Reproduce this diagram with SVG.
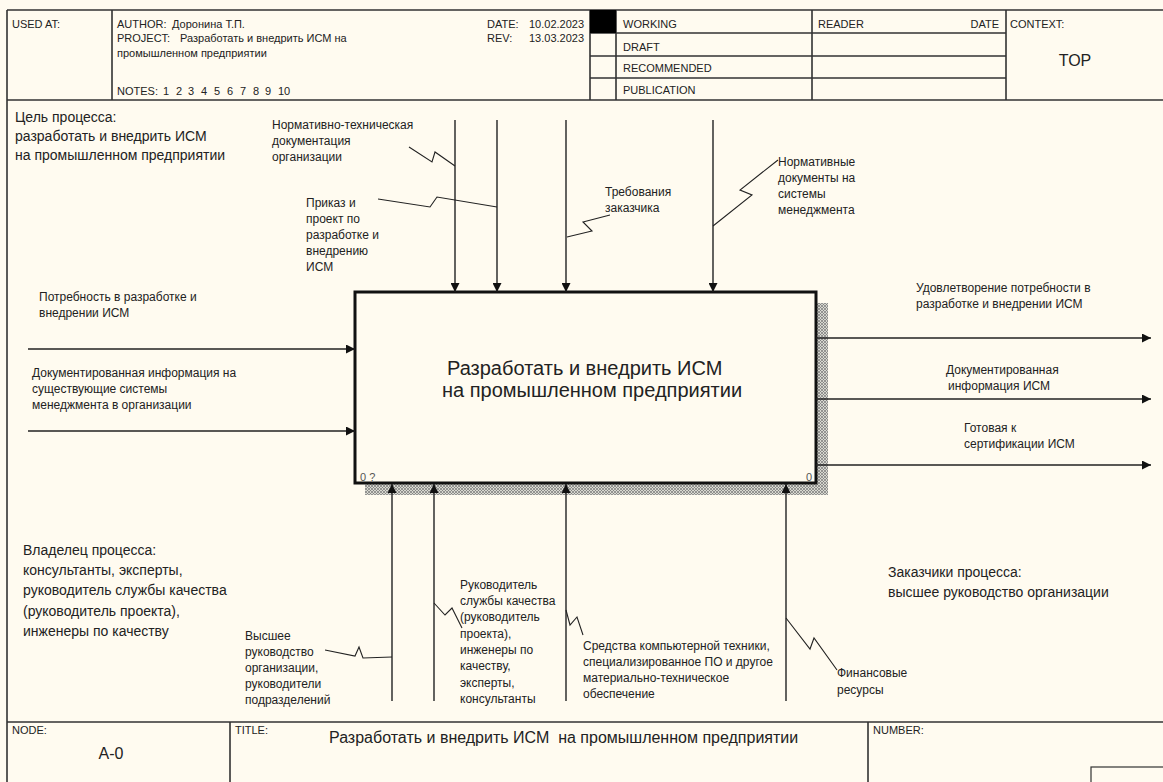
<svg xmlns="http://www.w3.org/2000/svg" width="1163" height="782" viewBox="0 0 1163 782">
<style>
.frame{fill:none;stroke:#333;stroke-width:1.6}
.hd{font-family:"Liberation Sans",Arial,sans-serif;font-size:11px;fill:#222}
.lb{font-family:"Liberation Sans",Arial,sans-serif;font-size:12px;fill:#222}
.big{font-family:"Liberation Sans",Arial,sans-serif;font-size:14px;fill:#222}
.ttl{font-family:"Liberation Sans",Arial,sans-serif;font-size:16px;fill:#222}
.box{font-family:"Liberation Sans",Arial,sans-serif;font-size:20px;fill:#222}
.num{font-family:"Liberation Sans",Arial,sans-serif;font-size:11px;fill:#555}
.arr{fill:none;stroke:#222;stroke-width:1.4}
.sq{fill:none;stroke:#222;stroke-width:1.1}
</style>
<defs>
<marker id="ah" viewBox="0 0 10 10" refX="10" refY="5" markerWidth="10" markerHeight="9" markerUnits="userSpaceOnUse" orient="auto">
<path d="M0,0 L10,5 L0,10 z" fill="#111"/>
</marker>
<pattern id="hatch" width="3" height="3" patternUnits="userSpaceOnUse">
<rect width="3" height="3" fill="#d8d8d0"/>
<path d="M0,0 L3,3 M3,0 L0,3" stroke="#777" stroke-width="0.7"/>
</pattern>
</defs>
<rect x="0" y="0" width="1163" height="782" fill="#fffbf0"/>

<g id="header">
<path class="frame" d="M7,10 H1163 M7,100 H1163 M7,10 V782 M112,10 V100 M590,10 V100 M616,10 V100 M812,10 V100 M1006,10 V100 M590,33 H1006 M590,56 H1006 M590,78 H1006"/>
<rect x="590" y="10" width="26" height="23" fill="#000"/>
<text class="hd" x="12" y="28">USED AT:</text>
<text class="hd" x="117" y="28">AUTHOR:</text>
<text class="hd" x="172" y="28">Доронина Т.П.</text>
<text class="hd" x="117" y="42">PROJECT:</text>
<text class="hd" x="180" y="42">Разработать и внедрить ИСМ на</text>
<text class="hd" x="117" y="57">промышленном предприятии</text>
<text class="hd" x="117" y="95">NOTES:</text>
<text class="hd" y="95"><tspan x="163">1</tspan><tspan x="176">2</tspan><tspan x="188">3</tspan><tspan x="201">4</tspan><tspan x="214">5</tspan><tspan x="227">6</tspan><tspan x="240">7</tspan><tspan x="253">8</tspan><tspan x="265">9</tspan><tspan x="278">10</tspan></text>
<text class="hd" x="487" y="28">DATE:</text>
<text class="hd" x="529" y="28">10.02.2023</text>
<text class="hd" x="487" y="42">REV:</text>
<text class="hd" x="529" y="42">13.03.2023</text>
<text class="hd" x="623" y="28">WORKING</text>
<text class="hd" x="623" y="51">DRAFT</text>
<text class="hd" x="623" y="72">RECOMMENDED</text>
<text class="hd" x="623" y="94">PUBLICATION</text>
<text class="hd" x="818" y="28">READER</text>
<text class="hd" x="999" y="28" text-anchor="end">DATE</text>
<text class="hd" x="1010" y="28">CONTEXT:</text>
<text class="ttl" x="1075" y="66" text-anchor="middle">TOP</text>
</g>

<g id="notes">
<text class="big" x="15" y="122">Цель процесса:</text>
<text class="big" x="15" y="141">разработать и внедрить ИСМ</text>
<text class="big" x="15" y="160">на промышленном предприятии</text>
<text class="big" x="23" y="555">Владелец процесса:</text>
<text class="big" x="23" y="575">консультанты, эксперты,</text>
<text class="big" x="23" y="595">руководитель службы качества</text>
<text class="big" x="23" y="616">(руководитель проекта),</text>
<text class="big" x="23" y="636">инженеры по качеству</text>
<text class="big" x="888" y="577">Заказчики процесса:</text>
<text class="big" x="888" y="597">высшее руководство организации</text>
</g>

<g id="node-A0">
<path d="M816,303 H828 V495 H365 V483 H816 Z" fill="url(#hatch)"/>
<rect x="355" y="292" width="461" height="191" fill="#fffbf0" stroke="#111" stroke-width="3"/>
<text class="box" x="447" y="375">Разработать и внедрить ИСМ</text>
<text class="box" x="442" y="397">на промышленном предприятии</text>
<text class="num" x="360" y="481">0 ?</text>
<text class="num" x="812" y="481" text-anchor="end">0</text>
</g>

<g id="connectors">
<path class="arr" d="M455,120 V292" marker-end="url(#ah)"/>
<path class="arr" d="M497,120 V292" marker-end="url(#ah)"/>
<path class="arr" d="M566,120 V292" marker-end="url(#ah)"/>
<path class="arr" d="M713,120 V292" marker-end="url(#ah)"/>
<path class="arr" d="M28,349 H355" marker-end="url(#ah)"/>
<path class="arr" d="M28,431 H355" marker-end="url(#ah)"/>
<path class="arr" d="M816,338 H1151" marker-end="url(#ah)"/>
<path class="arr" d="M816,399 H1151" marker-end="url(#ah)"/>
<path class="arr" d="M816,465 H1151" marker-end="url(#ah)"/>
<path class="arr" d="M392,701 V484" marker-end="url(#ah)"/>
<path class="arr" d="M434,701 V484" marker-end="url(#ah)"/>
<path class="arr" d="M566,701 V484" marker-end="url(#ah)"/>
<path class="arr" d="M786,701 V484" marker-end="url(#ah)"/>
<path class="sq" d="M409,147 L432,162 L435,152 L455,166"/>
<path class="sq" d="M378,199 L430,207 L437,197 L497,207"/>
<path class="sq" d="M610,215 L583,222 L592,231 L567,237"/>
<path class="sq" d="M778,160 L740,190 L752,195 L713,226"/>
<path class="sq" d="M325,650 L355,656 L359,647 L363,658 L392,657"/>
<path class="sq" d="M434,603 L445,615 L452,608 L462,628"/>
<path class="sq" d="M566,610 L570,625 L577,617 L583,635"/>
<path class="sq" d="M786,618 L810,649 L814,638 L837,670"/>
</g>

<g id="labels">
<text class="lb" x="272" y="129">Нормативно-техническая</text>
<text class="lb" x="272" y="145">документация</text>
<text class="lb" x="272" y="161">организации</text>
<text class="lb" x="306" y="207">Приказ и</text>
<text class="lb" x="306" y="223">проект по</text>
<text class="lb" x="306" y="239">разработке и</text>
<text class="lb" x="306" y="255">внедрению</text>
<text class="lb" x="306" y="271">ИСМ</text>
<text class="lb" x="605" y="196">Требования</text>
<text class="lb" x="605" y="212">заказчика</text>
<text class="lb" x="778" y="166">Нормативные</text>
<text class="lb" x="778" y="182">документы на</text>
<text class="lb" x="778" y="198">системы</text>
<text class="lb" x="778" y="214">менеджмента</text>
<text class="lb" x="39" y="301">Потребность в разработке и</text>
<text class="lb" x="39" y="317">внедрении ИСМ</text>
<text class="lb" x="32" y="377">Документированная информация на</text>
<text class="lb" x="32" y="393">существующие системы</text>
<text class="lb" x="32" y="409">менеджмента в организации</text>
<text class="lb" x="916" y="292">Удовлетворение потребности в</text>
<text class="lb" x="916" y="308">разработке и внедрении ИСМ</text>
<text class="lb" x="946" y="374">Документированная</text>
<text class="lb" x="948" y="390">информация ИСМ</text>
<text class="lb" x="964" y="432">Готовая к</text>
<text class="lb" x="964" y="448">сертификации ИСМ</text>
<text class="lb" x="245" y="640">Высшее</text>
<text class="lb" x="245" y="656">руководство</text>
<text class="lb" x="245" y="672">организации,</text>
<text class="lb" x="245" y="688">руководители</text>
<text class="lb" x="245" y="704">подразделений</text>
<text class="lb" x="460" y="589">Руководитель</text>
<text class="lb" x="460" y="605">службы качества</text>
<text class="lb" x="460" y="621">(руководитель</text>
<text class="lb" x="460" y="638">проекта),</text>
<text class="lb" x="460" y="654">инженеры по</text>
<text class="lb" x="460" y="670">качеству,</text>
<text class="lb" x="460" y="687">эксперты,</text>
<text class="lb" x="460" y="703">консультанты</text>
<text class="lb" x="583" y="650">Средства компьютерной техники,</text>
<text class="lb" x="583" y="666">специализированное ПО и другое</text>
<text class="lb" x="583" y="682">материально-техническое</text>
<text class="lb" x="583" y="698">обеспечение</text>
<text class="lb" x="837" y="677">Финансовые</text>
<text class="lb" x="837" y="694">ресурсы</text>
</g>

<g id="title-block">
<path class="frame" d="M7,722 H1163 M230,722 V782 M868,722 V782"/>
<rect x="1091" y="767" width="80" height="20" fill="none" stroke="#333" stroke-width="1.2"/>
<text class="hd" x="12" y="734">NODE:</text>
<text class="ttl" x="111" y="759" text-anchor="middle">A-0</text>
<text class="hd" x="235" y="734">TITLE:</text>
<text class="ttl" x="329" y="743" xml:space="preserve">Разработать и внедрить ИСМ  на промышленном предприятии</text>
<text class="hd" x="873" y="734">NUMBER:</text>
</g>
</svg>
